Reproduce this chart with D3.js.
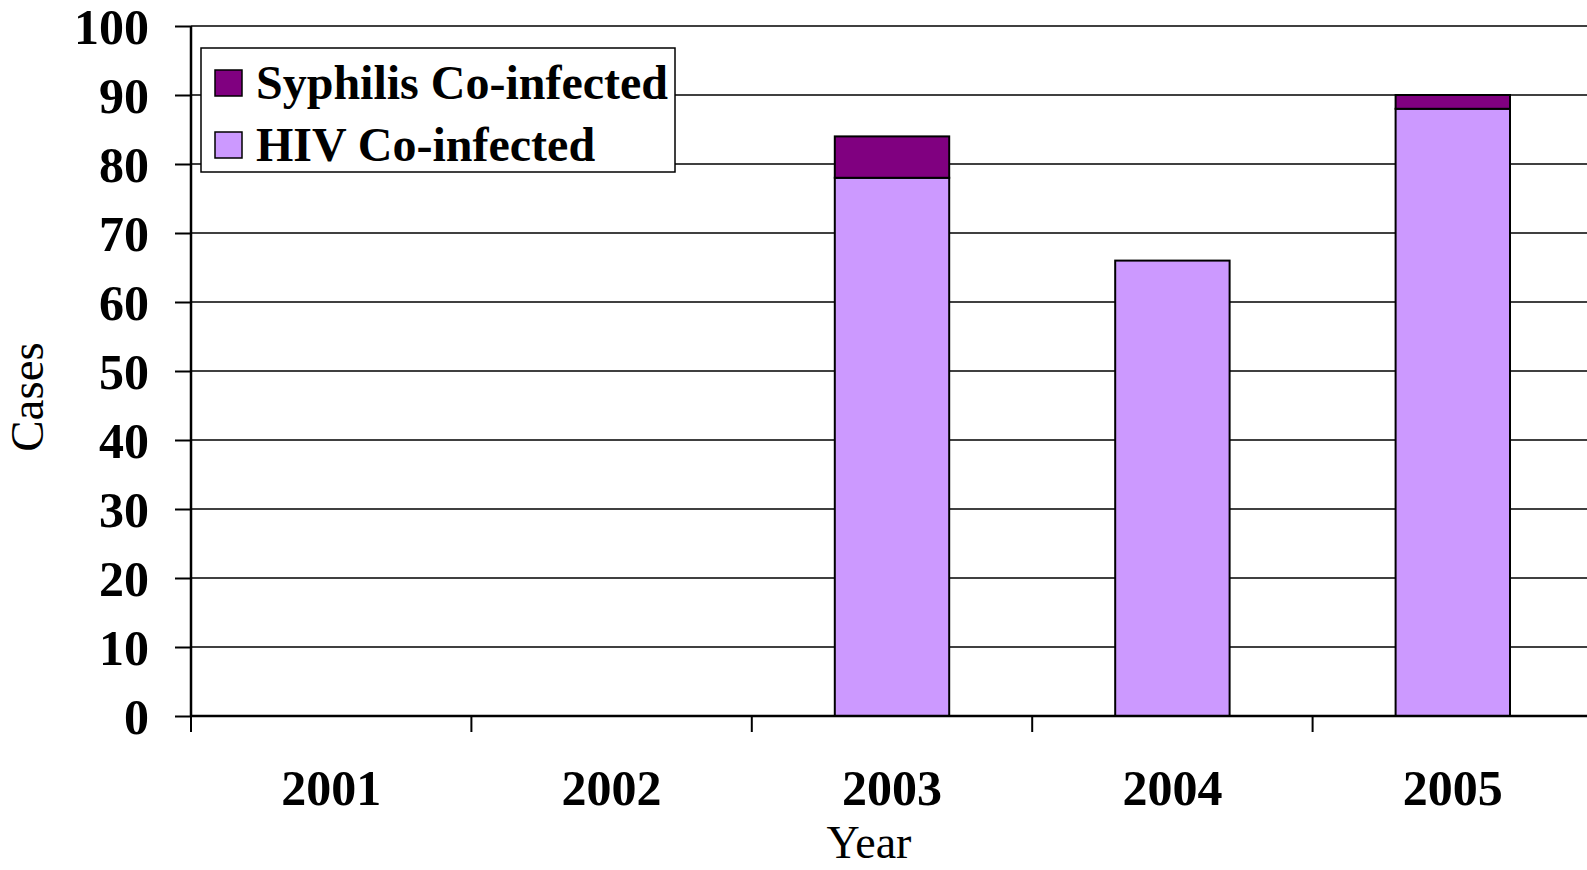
<!DOCTYPE html>
<html>
<head>
<meta charset="utf-8">
<script src="https://cdn.jsdelivr.net/npm/d3@7"></script>
<style>
    body { margin: 0; background: #fff; }
    svg { display: block; font-family: "Liberation Serif", "Times New Roman", serif; }
</style>
</head>
<body>
<div id="chart"></div>
<script>
// Chart data
const years = ['2001', '2002', '2003', '2004', '2005'];
const hivCoinfected = [0, 0, 78, 66, 88];
const syphilisCoinfected = [0, 0, 6, 0, 2];
const yTicks = [0, 10, 20, 30, 40, 50, 60, 70, 80, 90, 100];
const seriesNames = ['Syphilis Co-infected', 'HIV Co-infected'];
const seriesColors = ['#800080', '#CC99FF'];

const width = 1587;
const height = 870;
// plot runs a little past the right edge, as in the cropped original
const margin = {left: 191, top: 26, right: -6, bottom: 154};

const svg = d3.select('#chart')
    .append('svg')
    .attr('width', width)
    .attr('height', height);

const x = d3.scaleBand()
    .domain(years)
    .range([margin.left, width - margin.right])
    .padding(0);

const y = d3.scaleLinear()
    .domain([0, 100])
    .range([height - margin.bottom, margin.top]);

// Gridlines
svg.append('g')
    .selectAll('line')
    .data(yTicks.filter(d => d > 0))
    .enter().append('line')
    .attr('x1', margin.left)
    .attr('x2', width + 5)
    .attr('y1', d => y(d))
    .attr('y2', d => y(d))
    .attr('stroke', '#000')
    .attr('stroke-width', 1.6);

// Stacked bars
const table = years.map((yr, i) => ({year: yr, hiv: hivCoinfected[i], syph: syphilisCoinfected[i]}));
const stack = d3.stack().keys(['hiv', 'syph'])(table);
const barW = x.bandwidth() * 0.408;
const colorFor = {hiv: seriesColors[1], syph: seriesColors[0]};

stack.forEach(layer => {
    svg.append('g')
        .selectAll('rect')
        .data(layer.filter(d => d[1] - d[0] > 0))
        .enter().append('rect')
        .attr('x', d => x(d.data.year) + (x.bandwidth() - barW) / 2)
        .attr('width', barW)
        .attr('y', d => y(d[1]))
        .attr('height', d => y(d[0]) - y(d[1]))
        .attr('fill', colorFor[layer.key])
        .attr('stroke', '#000')
        .attr('stroke-width', 2);
});

// Y axis
const yAxis = d3.axisLeft(y)
    .tickValues(yTicks)
    .tickSize(16)
    .tickPadding(26)
    .tickFormat(d3.format('d'));

const yg = svg.append('g')
    .attr('transform', `translate(${margin.left},0)`)
    .call(yAxis);
yg.select('.domain').attr('stroke-width', 2.5).attr('d', `M0,${y(100)}V${y(0)}`);
yg.selectAll('.tick line').attr('stroke-width', 2);
yg.selectAll('.tick text')
    .attr('font-family', '"Liberation Serif", serif')
    .attr('font-size', 50)
    .attr('font-weight', 'bold')
    .attr('fill', '#000')
    .attr('dy', '0.34em');

// X axis line and ticks at band edges
const baseY = y(0);
svg.append('line')
    .attr('x1', margin.left)
    .attr('x2', width + 5)
    .attr('y1', baseY)
    .attr('y2', baseY)
    .attr('stroke', '#000')
    .attr('stroke-width', 2.5);

svg.append('g')
    .selectAll('line')
    .data(years)
    .enter().append('line')
    .attr('x1', d => x(d))
    .attr('x2', d => x(d))
    .attr('y1', baseY)
    .attr('y2', baseY + 16)
    .attr('stroke', '#000')
    .attr('stroke-width', 2);

svg.append('g')
    .selectAll('text')
    .data(years)
    .enter().append('text')
    .attr('x', d => x(d) + x.bandwidth() / 2)
    .attr('y', 805)
    .attr('text-anchor', 'middle')
    .attr('font-size', 50)
    .attr('font-weight', 'bold')
    .text(d => d);

// Axis titles
svg.append('text')
    .attr('x', 869)
    .attr('y', 858)
    .attr('text-anchor', 'middle')
    .attr('font-size', 46)
    .text('Year');

svg.append('text')
    .attr('transform', 'translate(43,397) rotate(-90)')
    .attr('text-anchor', 'middle')
    .attr('font-size', 47)
    .text('Cases');

// Legend
const legend = svg.append('g');
legend.append('rect')
    .attr('x', 201)
    .attr('y', 48)
    .attr('width', 474)
    .attr('height', 124)
    .attr('fill', '#fff')
    .attr('stroke', '#000')
    .attr('stroke-width', 1.5);

seriesNames.forEach((name, i) => {
    const ly = 70 + i * 62;
    legend.append('rect')
        .attr('x', 215)
        .attr('y', ly)
        .attr('width', 27)
        .attr('height', 26)
        .attr('fill', seriesColors[i])
        .attr('stroke', '#000')
        .attr('stroke-width', 1.5);
    legend.append('text')
        .attr('x', 256)
        .attr('y', ly + 29)
        .attr('font-size', 48)
        .attr('font-weight', 'bold')
        .text(name);
});
</script>
</body>
</html>
